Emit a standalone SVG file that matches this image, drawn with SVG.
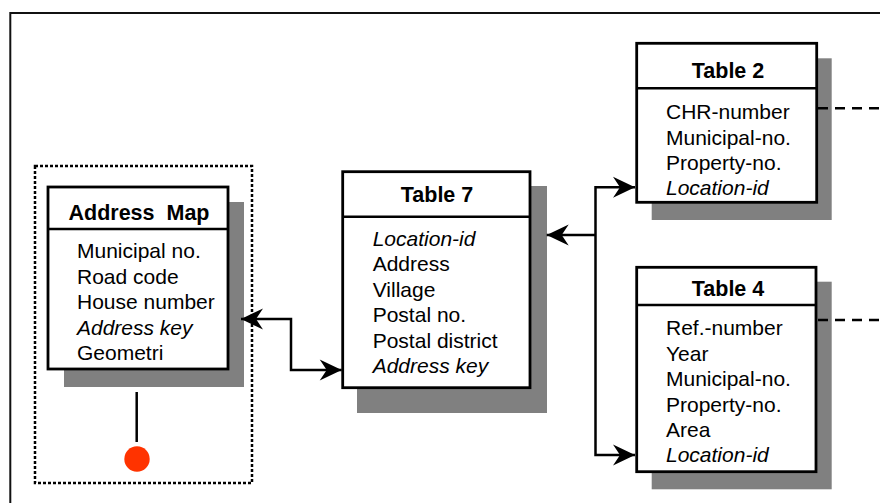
<svg xmlns="http://www.w3.org/2000/svg" width="880" height="503" viewBox="0 0 880 503">
<style>
text{font-family:"Liberation Sans",Arial,sans-serif;font-size:21px;fill:#000}
.t{font-weight:bold;text-anchor:middle;font-size:21.5px;white-space:pre}
.i{font-style:italic}
.box{fill:#fff;stroke:#000;stroke-width:2.8}
.sh{fill:#808080}
.div{stroke:#000;stroke-width:2.5}
.conn{fill:none;stroke:#000;stroke-width:2.5}
.dash{fill:none;stroke:#000;stroke-width:2.5;stroke-dasharray:10,7}
</style>
<defs>
<marker id="ah" viewBox="-23 -11 24 22" refX="0" refY="0" markerWidth="24" markerHeight="22" markerUnits="userSpaceOnUse" orient="auto-start-reverse">
<path d="M0,0 L-22,-10.5 L-15,0 L-22,10.5 Z" fill="#000"/>
</marker>
</defs>
<rect x="10.3" y="13" width="900" height="520" fill="none" stroke="#111" stroke-width="2"/>
<rect x="35" y="166" width="217" height="317" fill="none" stroke="#000" stroke-width="2.5" stroke-dasharray="3,2"/>
<g id="address-map">
<rect class="sh" x="64" y="202" width="180" height="185"/>
<rect class="box" x="48" y="187" width="180" height="182"/>
<line class="div" x1="48" y1="229" x2="228" y2="229"/>
<text class="t" x="139" y="220" xml:space="preserve">Address  Map</text>
<text x="77" y="258">Municipal no.</text>
<text x="77" y="283.5">Road code</text>
<text x="77" y="309">House number</text>
<text x="77" y="334.7" class="i">Address key</text>
<text x="77" y="360.3">Geometri</text>
<line x1="136.7" y1="392" x2="136.7" y2="442" stroke="#000" stroke-width="2.5"/>
<circle cx="137" cy="459" r="12.7" fill="#ff3300"/>
</g>
<g id="table7">
<rect class="sh" x="357" y="186" width="190" height="227"/>
<rect class="box" x="342.7" y="171.7" width="187.3" height="216"/>
<line class="div" x1="342.7" y1="216.7" x2="530" y2="216.7"/>
<text class="t" x="437" y="201.7">Table 7</text>
<text x="372.7" y="246" class="i">Location-id</text>
<text x="372.7" y="271">Address</text>
<text x="372.7" y="296.5">Village</text>
<text x="372.7" y="322">Postal no.</text>
<text x="372.7" y="347.5">Postal district</text>
<text x="372.7" y="373" class="i">Address key</text>
</g>
<g id="table2">
<rect class="sh" x="651.7" y="58.3" width="180" height="161.7"/>
<rect class="box" x="636.7" y="43.3" width="180" height="159"/>
<line class="div" x1="636.7" y1="88.3" x2="816.7" y2="88.3"/>
<text class="t" x="728" y="78.3">Table 2</text>
<text x="666" y="119.3">CHR-number</text>
<text x="666" y="144.7">Municipal-no.</text>
<text x="666" y="170">Property-no.</text>
<text x="666" y="195.3" class="i">Location-id</text>
</g>
<g id="table4">
<rect class="sh" x="651.7" y="281.7" width="180" height="207.6"/>
<rect class="box" x="636.7" y="267.3" width="179.3" height="204.4"/>
<line class="div" x1="636.7" y1="305" x2="816" y2="305"/>
<text class="t" x="728" y="296">Table 4</text>
<text x="666" y="335">Ref.-number</text>
<text x="666" y="360.5">Year</text>
<text x="666" y="386">Municipal-no.</text>
<text x="666" y="411.5">Property-no.</text>
<text x="666" y="437">Area</text>
<text x="666" y="462" class="i">Location-id</text>
</g>
<g id="connectors">
<path class="conn" d="M241,319 H291 V370 H341.7" marker-start="url(#ah)" marker-end="url(#ah)"/>
<path class="conn" d="M546.7,235 H595.5" marker-start="url(#ah)"/>
<path class="conn" d="M635,187.3 H595.5 V455 H635" marker-start="url(#ah)" marker-end="url(#ah)"/>
<line class="dash" x1="818" y1="108.3" x2="880" y2="108.3"/>
<line class="dash" x1="818" y1="320" x2="880" y2="320"/>
</g>
</svg>
